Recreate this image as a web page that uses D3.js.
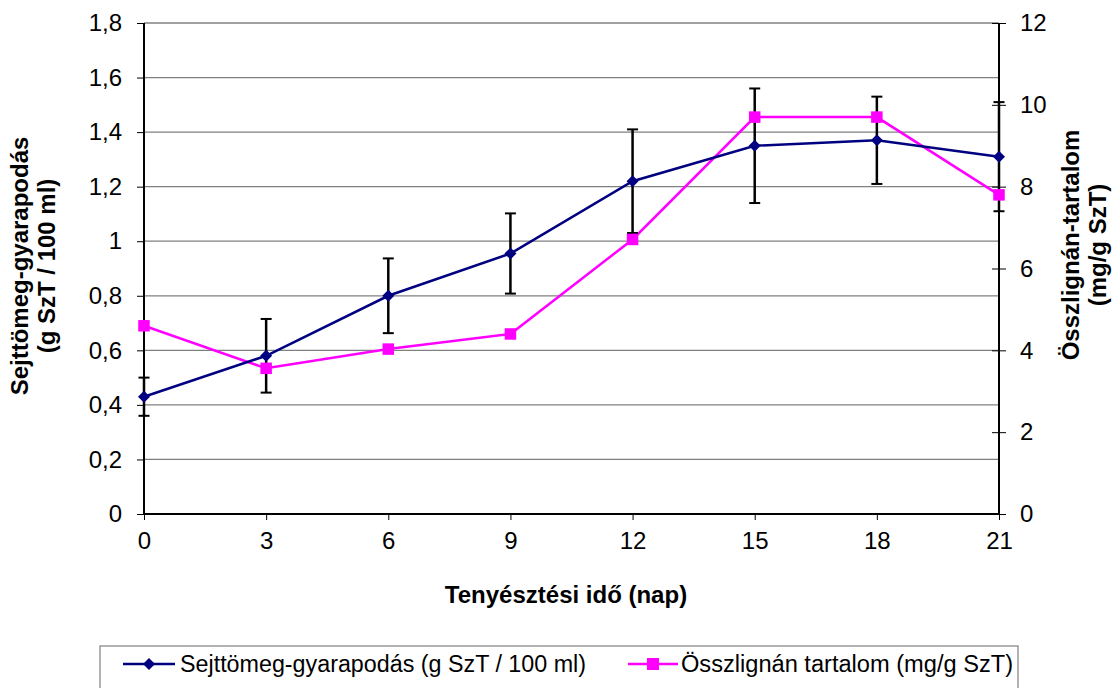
<!DOCTYPE html>
<html><head><meta charset="utf-8">
<script src="https://cdn.jsdelivr.net/npm/d3@7"></script>
<style>body{margin:0;background:#fff;} svg{display:block;font-family:Arial,"Liberation Sans",sans-serif;}</style>
</head><body>
<svg id="c" width="1114" height="688"></svg>
<script>
const days = [0,3,6,9,12,15,18,21];
const biomass = [0.43,0.58,0.80,0.955,1.22,1.35,1.37,1.31];
const biomassErr = [0.07,0.135,0.137,0.147,0.19,0.21,0.16,0.20];
const lignan = [4.6,3.56,4.03,4.40,6.71,9.70,9.70,7.80];
const leftTicks = [0,0.2,0.4,0.6,0.8,1,1.2,1.4,1.6,1.8];
const rightTicks = [0,2,4,6,8,10,12];
const xTicks = [0,3,6,9,12,15,18,21];
const seriesNames = ["Sejttömeg-gyarapodás (g SzT / 100 ml)","Összlignán tartalom (mg/g  SzT)"];

const svg = d3.select("#c");
const L=144,R=999,T=23,B=514;
const x = d3.scaleLinear().domain([0,21]).range([L,R]);
const yL = d3.scaleLinear().domain([0,1.8]).range([B,T]);
const yR = d3.scaleLinear().domain([0,12]).range([B,T]);
const fmt = d => String(d).replace(".",",");
const FF = "Arial, 'Liberation Sans', sans-serif";

// gridlines
svg.append("g").selectAll("line").data(leftTicks.filter(d=>d>0)).join("line")
  .attr("x1",L).attr("x2",R).attr("y1",d=>yL(d)).attr("y2",d=>yL(d))
  .attr("stroke","#808080").attr("stroke-width",1.3);

const gl = svg.append("g").attr("transform",`translate(${L},0)`)
  .call(d3.axisLeft(yL).tickValues(leftTicks).tickFormat(fmt).tickSize(7).tickPadding(15));
const gr = svg.append("g").attr("transform",`translate(${R},0)`)
  .call(d3.axisRight(yR).tickValues(rightTicks).tickSize(7).tickPadding(14));
gr.selectAll(".tick line").attr("x1",-7);
const gb = svg.append("g").attr("transform",`translate(0,${B})`)
  .call(d3.axisBottom(x).tickValues(xTicks).tickSize(6).tickPadding(12));
[gl,gr,gb].forEach(g=>{
  g.attr("font-size",24).attr("font-family",FF);
  g.select(".domain").attr("stroke","#000").attr("stroke-width",2);
  g.selectAll(".tick line").attr("stroke","#000").attr("stroke-width",1);
  g.selectAll(".tick text").attr("font-size",24).attr("fill","#000");
});
gl.select(".domain").attr("d",`M0,${B}V${T}`);
gr.select(".domain").attr("d",`M0,${B}V${T}`);
gb.select(".domain").attr("d",`M${L},0H${R}`);

// lines
const lineB = d3.line().x((d,i)=>x(days[i])).y(d=>yL(d));
const lineP = d3.line().x((d,i)=>x(days[i])).y(d=>yR(d));
svg.append("path").attr("d",lineP(lignan)).attr("fill","none").attr("stroke","#FF00FF").attr("stroke-width",2.5);
svg.append("path").attr("d",lineB(biomass)).attr("fill","none").attr("stroke","#000080").attr("stroke-width",2.5);

// error bars
const eb = svg.append("g").attr("stroke","#000").attr("stroke-width",2.5);
days.forEach((d,i)=>{
  const cx=x(d), y1=yL(biomass[i]+biomassErr[i]), y2=yL(biomass[i]-biomassErr[i]);
  eb.append("line").attr("x1",cx).attr("x2",cx).attr("y1",y1).attr("y2",y2);
  eb.append("line").attr("x1",cx-5.5).attr("x2",cx+5.5).attr("y1",y1).attr("y2",y1).attr("stroke-width",2);
  eb.append("line").attr("x1",cx-5.5).attr("x2",cx+5.5).attr("y1",y2).attr("y2",y2).attr("stroke-width",2);
});

// markers
const sq = 11.5, dm = 6;
svg.append("g").selectAll("rect").data(lignan).join("rect")
  .attr("x",(d,i)=>x(days[i])-sq/2).attr("y",d=>yR(d)-sq/2).attr("width",sq).attr("height",sq).attr("fill","#FF00FF");
svg.append("g").selectAll("path").data(biomass).join("path")
  .attr("d",(d,i)=>{const cx=x(days[i]),cy=yL(d);return `M${cx},${cy-dm}L${cx+dm},${cy}L${cx},${cy+dm}L${cx-dm},${cy}Z`;})
  .attr("fill","#000080");

// axis titles
svg.append("text").attr("x",566).attr("y",603).attr("text-anchor","middle").attr("font-family",FF)
  .attr("font-size",24).attr("font-weight","bold").text("Tenyésztési idő (nap)");
const lt = svg.append("text").attr("transform",`translate(28,266) rotate(-90)`).attr("text-anchor","middle")
  .attr("font-size",24).attr("font-weight","bold").attr("font-family",FF);
lt.append("tspan").attr("x",0).attr("dy",0).text("Sejttömeg-gyarapodás");
lt.append("tspan").attr("x",0).attr("dy",27).text("(g SzT / 100 ml)");
const rt = svg.append("text").attr("transform",`translate(1079,245) rotate(-90)`).attr("text-anchor","middle")
  .attr("font-size",24).attr("font-weight","bold").attr("font-family",FF);
rt.append("tspan").attr("x",0).attr("dy",0).text("Összlignán-tartalom");
rt.append("tspan").attr("x",0).attr("dy",27).text("(mg/g SzT)");

// legend
svg.append("rect").attr("x",100).attr("y",646).attr("width",918).attr("height",60)
  .attr("fill","none").attr("stroke","#999").attr("stroke-width",1.5);
const lg = svg.append("g").attr("font-family",FF).style("white-space","pre");
lg.append("line").attr("x1",123).attr("x2",175).attr("y1",664).attr("y2",664).attr("stroke","#000080").attr("stroke-width",2.5);
lg.append("path").attr("d",`M149,658L155,664L149,670L143,664Z`).attr("fill","#000080");
lg.append("text").attr("x",180).attr("y",672).attr("font-size",23).attr("textLength",406).attr("lengthAdjust","spacingAndGlyphs").text(seriesNames[0]);
lg.append("line").attr("x1",628).attr("x2",678).attr("y1",664).attr("y2",664).attr("stroke","#FF00FF").attr("stroke-width",2.5);
lg.append("rect").attr("x",647).attr("y",658).attr("width",12).attr("height",12).attr("fill","#FF00FF");
lg.append("text").attr("x",681).attr("y",672).attr("font-size",23).attr("textLength",332).attr("lengthAdjust","spacingAndGlyphs").text(seriesNames[1]);
</script>
</body></html>
